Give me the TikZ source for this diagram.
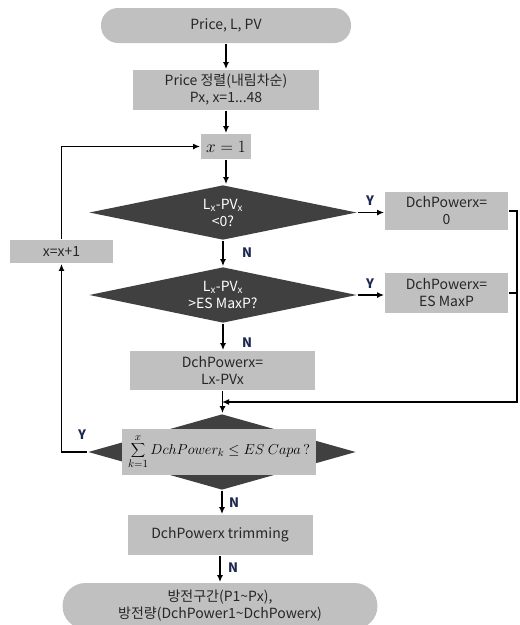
\documentclass[tikz,border=0pt]{standalone}
\usepackage{fontspec}
\setmainfont{Noto Sans CJK KR}
\usetikzlibrary{arrows.meta, positioning, shapes.geometric}

\definecolor{boxgray}{RGB}{192,192,192}
\definecolor{decgray}{RGB}{64,64,64}
\definecolor{lblnavy}{RGB}{28,40,80}

\begin{document}
\begin{tikzpicture}[x=1pt, y=-1pt, >={Latex[length=7pt,width=6pt]}, line width=1.8pt,
      every node/.style={font=\fontsize{14}{17}\selectfont, align=center, text=black!85},
      proc/.style={fill=boxgray, inner sep=0pt},
      term/.style={fill=boxgray, inner sep=0pt},
      dec/.style={diamond, fill=decgray, inner sep=0pt, text=white},
      yn/.style={font=\fontsize{13}{15}\selectfont\bfseries, text=lblnavy}]

    \useasboundingbox (0,0) rectangle (520,625);

    % Widths of the right column and of the diamonds
    \def\rw{123pt}
    \def\dw{268pt}

    % Main column
    \node[term, rounded corners=17pt, minimum width=250pt, minimum height=35pt] (start) at (226,25.5) {Price, L, PV};
    \node[proc, minimum width=186pt, minimum height=40pt] (sort) at (226,90) {Price 정렬(내림차순)\\Px, x=1...48};
    \node[proc, minimum width=50pt, minimum height=25pt, text=black, font=\fontsize{17}{20}\selectfont] (init) at (226,146.5) {$x=1$};
    \node[dec, aspect=5, minimum width=\dw, minimum height=55pt] (chk0) at (223,212.5) {L\textsubscript{x}-PV\textsubscript{x}\\<0?};
    \node[dec, aspect=5, minimum width=\dw, minimum height=56pt] (chkmax) at (223,295) {L\textsubscript{x}-PV\textsubscript{x}\\>ES MaxP?};
    \node[proc, minimum width=185pt, minimum height=39pt] (diff) at (222.5,370.5) {DchPowerx=\\Lx-PVx};
    \node[dec, aspect=3.5, minimum width=\dw, minimum height=76pt] (capa) at (222,452) {};
    \node[proc, minimum width=194pt, minimum height=46pt, text=black, font=\fontsize{15.5}{18}\selectfont] (capasum) at (219,452)
        {$\displaystyle\sum_{k=1}^{x} DchPower_{k} \leq ES\ Capa\,?$};
    \node[proc, minimum width=185pt, minimum height=40pt] (trim) at (220,535) {DchPowerx trimming};
    \node[term, rounded corners=23pt, minimum width=315pt, minimum height=46pt] (result) at (220,606)
        {방전구간(P1\textasciitilde Px),\\방전량(DchPower1\textasciitilde DchPowerx)};

    % Right column
    \node[proc, minimum width=\rw, minimum height=38pt] (zero) at (446.5,211) {DchPowerx=\\0};
    \node[proc, minimum width=\rw, minimum height=40pt] (maxp) at (446.5,293) {DchPowerx=\\ES MaxP};

    % Loop counter
    \node[proc, minimum width=103pt, minimum height=23pt] (incr) at (61.5,251.5) {x=x+1};

    \coordinate (rail) at (517,402);

    % Flow
    \draw[->] (start.south) -- (start.south |- sort.north);
    \draw[->] (sort.south) -- (sort.south |- init.north);
    \draw[->] (init.south) -- (init.south |- chk0.north);
    \draw[->] (chk0.south) -- (chkmax.north);
    \draw[->] (chkmax.south) -- (chkmax.south |- diff.north);
    \draw[->] (diff.south) -- (diff.south |- capa.north);
    \draw[->] (capa.south) -- (capa.south |- trim.north);
    \draw[->] (trim.south) -- (trim.south |- result.north);

    % Y branches and merge
    \draw[->] (chk0.east) -- (chk0.east -| zero.west);
    \draw[->] (chkmax.east) -- (chkmax.east -| maxp.west);
    \draw[->] (zero.east) -| (rail) -- (rail -| capa.north);
    \draw (maxp.east) -- (maxp.east -| rail);

    % Loop back
    \draw[->] (capa.west) -| (incr.south);
    \draw[->] (incr.north) |- (init.west);

    % Branch labels
    \node[yn] (y0) at (370,201) {Y};
    \node[yn] (ymax) at (370,284) {Y};
    \node[yn] (ycapa) at (82,435) {Y};
    \node[yn] (n0) at (247,253) {N};
    \node[yn] (nmax) at (247,343) {N};
    \node[yn] (ncapa) at (234,503) {N};
    \node[yn] (ntrim) at (233,568) {N};

\end{tikzpicture}
\end{document}
